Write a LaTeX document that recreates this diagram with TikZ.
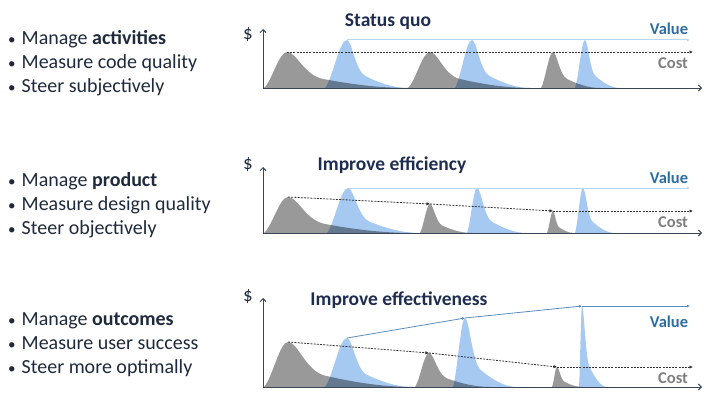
\documentclass[tikz,border=0pt]{standalone}
\usepackage{fontspec}
\setmainfont{Carlito}
\usetikzlibrary{arrows.meta}
\definecolor{txt}{HTML}{1F2A3C}
\definecolor{ttl}{HTML}{1E2D4F}
\definecolor{vallab}{HTML}{2D6CA2}
\definecolor{costlab}{HTML}{7F7F7F}
\definecolor{grayfill}{HTML}{999999}
\definecolor{bluefill}{HTML}{A6C9F2}
\definecolor{vlight}{HTML}{B5D6EE}
\definecolor{vdark}{HTML}{5B8CBF}
\definecolor{axis}{HTML}{3A4658}
\newcommand\mypeak[7]{% style, name, x0, xp, yp, x1, base
  \pgfmathsetmacro\pd{#4-#3}%
  \pgfmathsetmacro\ph{#7-#5}%
  \pgfmathsetmacro\pw{#6-#4}%
  \fill[#1] (#3,#7) .. controls ({#3+0.35*\pd},{#7-0.2*\ph}) and ({#4-0.35*\pd},#5) .. (#4,#5)
    .. controls ({#4+0.08*\pw},#5) and ({#4+0.14*\pw},{#7-0.35*\ph}) .. ({#4+0.3*\pw},{#7-0.25*\ph})
    .. controls ({#4+0.5*\pw},{#7-0.12*\ph}) and ({#4+0.75*\pw},#7) .. (#6,#7) -- cycle;
  \coordinate (#2) at (#4,#5);
}
\begin{document}
\begin{tikzpicture}[x=1pt,y=-1pt,
  bullet/.style={anchor=base west,inner sep=0pt,font=\fontsize{20}{24}\selectfont,text=txt},
  ttlnode/.style={anchor=base,inner sep=0pt,font=\fontsize{19.5}{23}\selectfont\bfseries,text=ttl},
  vlab/.style={inner sep=0pt,font=\fontsize{16.5}{19}\selectfont\bfseries,text=vallab},
  clab/.style={inner sep=0pt,font=\fontsize{16.5}{19}\selectfont\bfseries,text=costlab},
  dollar/.style={inner sep=0pt,font=\fontsize{19}{21}\selectfont,text=txt},
  axisline/.style={draw=axis,line width=0.9pt,-{Straight Barb[length=3pt,width=6pt]}},
  gpk/.style={fill=grayfill},
  bpk/.style={fill=bluefill},
  costline/.style={draw=black!80,line width=0.8pt,dash pattern=on 2pt off 1.2pt,-{Latex[length=3.5pt,width=3.5pt]}},
  vlightline/.style={draw=vlight,line width=1pt,-{Latex[length=3pt,width=3pt]}},
  vdarkline/.style={draw=vdark,line width=0.8pt,-{Latex[length=3pt,width=3pt]}}
]
\useasboundingbox (0,0) rectangle (706,398);

% ---------- left texts ----------
\newcommand\bul{{\fontsize{15}{15}\selectfont•}\hspace{6pt}}
\node[bullet] (t11) at (8,45) {\bul Manage \textbf{activities}};
\node[bullet] (t12) at (8,69) {\bul Measure code quality};
\node[bullet] (t13) at (8,93) {\bul Steer subjectively};
\node[bullet] (t21) at (8,186) {\bul Manage \textbf{product}};
\node[bullet] (t22) at (8,210) {\bul Measure design quality};
\node[bullet] (t23) at (8,234) {\bul Steer objectively};
\node[bullet] (t31) at (8,325) {\bul Manage \textbf{outcomes}};
\node[bullet] (t32) at (8,349) {\bul Measure user success};
\node[bullet] (t33) at (8,373) {\bul Steer more optimally};

% ---------- panel 1 ----------
\node[ttlnode] (h1) at (388,27) {Status quo};
\node[dollar] (d1) at (248,35) {\$};
\mypeak{gpk}{a1}{264}{287}{52}{408}{88}
\mypeak{gpk}{a2}{408}{430}{52}{530}{88}
\mypeak{gpk}{a3}{541}{553}{52}{600}{88}
\begin{scope}[blend mode=multiply]
\mypeak{bpk}{b1}{325}{347}{40}{408}{88}
\mypeak{bpk}{b2}{455}{472}{40}{530}{88}
\mypeak{bpk}{b3}{575}{585}{40}{620}{88}
\end{scope}
\coordinate (o1) at (263,88);
\coordinate (y1) at (263,29);
\coordinate (x1) at (702,88);
\draw[axisline] (o1) -- (y1);
\draw[axisline] (o1) -- (x1);
\coordinate (v1e) at (690,40);
\coordinate (c1e) at (693,52);
\draw[vlightline] (b1) -- (v1e);
\draw[costline] (a1) -- (c1e);
\node[vlab] (vl1) at (669,29) {Value};
\node[clab] (cl1) at (673,63) {Cost};

% ---------- panel 2 ----------
\node[ttlnode] (h2) at (392,171) {Improve efficiency};
\node[dollar] (d2) at (248,165) {\$};
\mypeak{gpk}{e1}{264}{288}{197}{412}{233}
\mypeak{gpk}{e2}{420}{430}{204}{472}{233}
\mypeak{gpk}{e3}{547}{553}{211}{574}{233}
\begin{scope}[blend mode=multiply]
\mypeak{bpk}{f1}{327}{348}{188}{420}{233}
\mypeak{bpk}{f2}{467}{477}{188}{527}{233}
\mypeak{bpk}{f3}{575}{583}{188}{615}{233}
\end{scope}
\coordinate (o2) at (263,233);
\coordinate (y2) at (263,167);
\coordinate (x2) at (702,233);
\draw[axisline] (o2) -- (y2);
\draw[axisline] (o2) -- (x2);
\coordinate (v2e) at (690,188);
\coordinate (c2e) at (693,211);
\draw[vlightline] (f1) -- (v2e);
\draw[costline] (e1) -- (e2);
\draw[costline] (e2) -- (e3);
\draw[costline] (e3) -- (c2e);
\node[vlab] (vl2) at (669,178) {Value};
\node[clab] (cl2) at (673,222) {Cost};

% ---------- panel 3 ----------
\node[ttlnode] (h3) at (399,305) {Improve effectiveness};
\node[dollar] (d3) at (248,297) {\$};
\mypeak{gpk}{g1}{264}{288}{342}{413}{387}
\mypeak{gpk}{g2}{415}{429}{353}{490}{387}
\mypeak{gpk}{g3}{552}{557}{367}{583}{387}
\begin{scope}[blend mode=multiply]
\mypeak{bpk}{k1}{325}{347}{338}{413}{387}
\mypeak{bpk}{k2}{453}{465}{318}{517}{387}
\mypeak{bpk}{k3}{579}{582}{306}{607}{387}
\end{scope}
\coordinate (o3) at (263,387);
\coordinate (y3) at (263,298);
\coordinate (x3) at (702,387);
\draw[axisline] (o3) -- (y3);
\draw[axisline] (o3) -- (x3);
\coordinate (v3e) at (690,306);
\coordinate (c3e) at (693,367);
\draw[vdarkline] (k1) -- (k2);
\draw[vdarkline] (k2) -- (k3);
\draw[vdarkline] (k3) -- (v3e);
\draw[costline] (g1) -- (g2);
\draw[costline] (g2) -- (g3);
\draw[costline] (g3) -- (c3e);
\node[vlab] (vl3) at (669,322) {Value};
\node[clab] (cl3) at (673,378) {Cost};
\end{tikzpicture}
\end{document}
